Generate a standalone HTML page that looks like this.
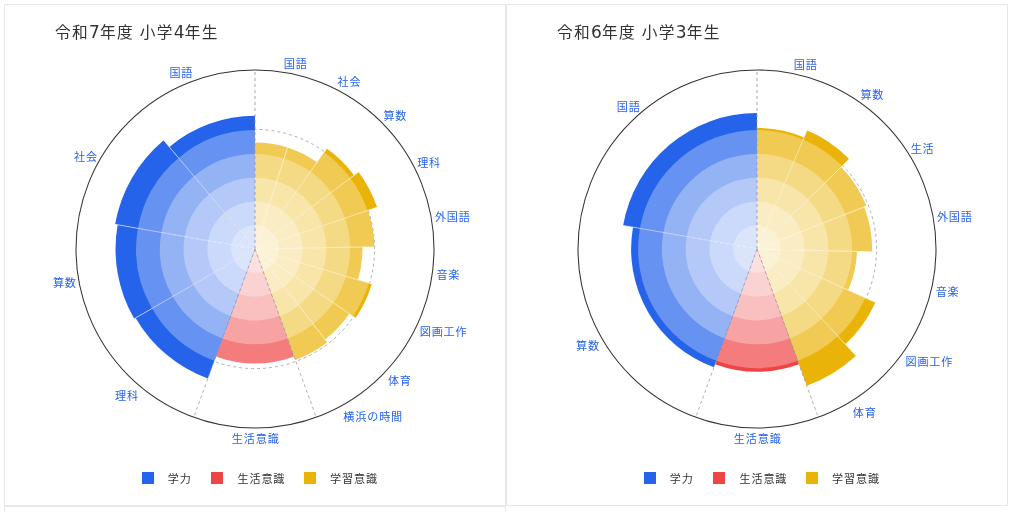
<!DOCTYPE html>
<html lang="ja">
<head>
<meta charset="utf-8">
<title>学力レーダー</title>
<style>
html,body{margin:0;padding:0;background:#fff;}
.root{position:relative;width:1012px;height:512px;overflow:hidden;background:#fff;}
body{width:1012px;height:512px;overflow:hidden;position:relative;font-family:"Liberation Sans","Noto Sans CJK JP",sans-serif;}
.card{position:absolute;width:500px;height:500px;border:1px solid #e5e7eb;background:#fff;overflow:hidden;}
.ttl{position:absolute;font-size:15.7px;letter-spacing:1.3px;line-height:24px;color:#333;white-space:nowrap;}
.dg{font-family:"DejaVu Sans","Liberation Sans",sans-serif;font-size:17px;letter-spacing:0.3px;}
.ch{position:absolute;left:0;top:0;}
.lb{font-weight:400;font-size:11.1px;letter-spacing:0.85px;fill:#2563eb;font-family:"Liberation Sans","Noto Sans CJK JP",sans-serif;}
.lg{position:absolute;left:0;top:0;width:500px;height:500px;}
.sq{position:absolute;top:467.3px;width:12px;height:12px;}
.lt{position:absolute;font-weight:400;font-size:11.1px;letter-spacing:0.85px;line-height:18px;color:#333;white-space:nowrap;}
</style>
</head>
<body>
<div class="root">
<div class="card" style="left:4px;top:4px">
<div class="ttl" style="left:49.91px;top:15px">令和<span class="dg">7</span>年度 小学<span class="dg">4</span>年生</div>
<svg class="ch" width="500" height="500" viewBox="0 0 500 500">
<path d="M250 124.4A119.6 119.6 0 1 1 250 363.6A119.6 119.6 0 1 1 250 124.4" fill="none" stroke="#9a9ca3" stroke-opacity="0.8" stroke-width="1" stroke-dasharray="3 3" stroke-dashoffset="1.5"/>
<path d="M250 244L250 137.5A106.5 106.5 0 0 1 282.52 142.59Z" fill="#f0ca52"/>
<path d="M250 244L250 148.88A95.12 95.12 0 0 1 279.04 153.42Z" fill="#f5da86"/>
<path d="M250 244L250 172.66A71.34 71.34 0 0 1 271.78 176.07Z" fill="#f8e5aa"/>
<path d="M250 244L250 196.44A47.56 47.56 0 0 1 264.52 198.71Z" fill="#faedc4"/>
<path d="M250 244L250 220.22A23.78 23.78 0 0 1 257.26 221.36Z" fill="#fbf2d5"/>
<path d="M250 244L282.51 142.61A106.48 106.48 0 0 1 311.92 157.37Z" fill="#f0ca52"/>
<path d="M250 244L279.04 153.42A95.12 95.12 0 0 1 305.31 166.61Z" fill="#f5da86"/>
<path d="M250 244L271.78 176.07A71.34 71.34 0 0 1 291.48 185.96Z" fill="#f8e5aa"/>
<path d="M250 244L264.52 198.71A47.56 47.56 0 0 1 277.66 205.31Z" fill="#faedc4"/>
<path d="M250 244L257.26 221.36A23.78 23.78 0 0 1 263.83 224.65Z" fill="#fbf2d5"/>
<path d="M250 244L321.78 143.57A123.44 123.44 0 0 1 349.02 170.29Z" fill="#eab308"/>
<path d="M250 244L319.14 147.27A118.9 118.9 0 0 1 345.37 173Z" fill="#f0ca52"/>
<path d="M250 244L305.31 166.61A95.12 95.12 0 0 1 326.3 187.2Z" fill="#f5da86"/>
<path d="M250 244L291.48 185.96A71.34 71.34 0 0 1 307.22 201.4Z" fill="#f8e5aa"/>
<path d="M250 244L277.66 205.31A47.56 47.56 0 0 1 288.15 215.6Z" fill="#faedc4"/>
<path d="M250 244L263.83 224.65A23.78 23.78 0 0 1 269.07 229.8Z" fill="#fbf2d5"/>
<path d="M250 244L353.55 166.91A129.09 129.09 0 0 1 372.14 202.21Z" fill="#eab308"/>
<path d="M250 244L345.37 173A118.9 118.9 0 0 1 362.5 205.51Z" fill="#f0ca52"/>
<path d="M250 244L326.3 187.2A95.12 95.12 0 0 1 340 213.21Z" fill="#f5da86"/>
<path d="M250 244L307.22 201.4A71.34 71.34 0 0 1 317.5 220.9Z" fill="#f8e5aa"/>
<path d="M250 244L288.15 215.6A47.56 47.56 0 0 1 295 228.6Z" fill="#faedc4"/>
<path d="M250 244L269.07 229.8A23.78 23.78 0 0 1 272.5 236.3Z" fill="#fbf2d5"/>
<path d="M250 244L362.72 205.43A119.13 119.13 0 0 1 369.11 241.69Z" fill="#eab308"/>
<path d="M250 244L362.5 205.51A118.9 118.9 0 0 1 368.88 241.69Z" fill="#f0ca52"/>
<path d="M250 244L340 213.21A95.12 95.12 0 0 1 345.1 242.16Z" fill="#f5da86"/>
<path d="M250 244L317.5 220.9A71.34 71.34 0 0 1 321.33 242.62Z" fill="#f8e5aa"/>
<path d="M250 244L295 228.6A47.56 47.56 0 0 1 297.55 243.08Z" fill="#faedc4"/>
<path d="M250 244L272.5 236.3A23.78 23.78 0 0 1 273.78 243.54Z" fill="#fbf2d5"/>
<path d="M250 244L357.45 241.92A107.47 107.47 0 0 1 352.96 274.82Z" fill="#f0ca52"/>
<path d="M250 244L345.1 242.16A95.12 95.12 0 0 1 341.12 271.28Z" fill="#f5da86"/>
<path d="M250 244L321.33 242.62A71.34 71.34 0 0 1 318.34 264.46Z" fill="#f8e5aa"/>
<path d="M250 244L297.55 243.08A47.56 47.56 0 0 1 295.56 257.64Z" fill="#faedc4"/>
<path d="M250 244L273.78 243.54A23.78 23.78 0 0 1 272.78 250.82Z" fill="#fbf2d5"/>
<path d="M250 244L366.79 278.97A121.91 121.91 0 0 1 350.54 312.96Z" fill="#eab308"/>
<path d="M250 244L363.9 278.1A118.9 118.9 0 0 1 348.05 311.25Z" fill="#f0ca52"/>
<path d="M250 244L341.12 271.28A95.12 95.12 0 0 1 328.44 297.8Z" fill="#f5da86"/>
<path d="M250 244L318.34 264.46A71.34 71.34 0 0 1 308.83 284.35Z" fill="#f8e5aa"/>
<path d="M250 244L295.56 257.64A47.56 47.56 0 0 1 289.22 270.9Z" fill="#faedc4"/>
<path d="M250 244L272.78 250.82A23.78 23.78 0 0 1 269.61 257.45Z" fill="#fbf2d5"/>
<path d="M250 244L344.31 308.68A114.36 114.36 0 0 1 320.06 334.39Z" fill="#f0ca52"/>
<path d="M250 244L328.44 297.8A95.12 95.12 0 0 1 308.27 319.18Z" fill="#f5da86"/>
<path d="M250 244L308.83 284.35A71.34 71.34 0 0 1 293.7 300.39Z" fill="#f8e5aa"/>
<path d="M250 244L289.22 270.9A47.56 47.56 0 0 1 279.14 281.59Z" fill="#faedc4"/>
<path d="M250 244L269.61 257.45A23.78 23.78 0 0 1 264.57 262.8Z" fill="#fbf2d5"/>
<path d="M250 244L322.36 337.37A118.12 118.12 0 0 1 290.4 355Z" fill="#f0ca52"/>
<path d="M250 244L308.27 319.18A95.12 95.12 0 0 1 282.53 333.38Z" fill="#f5da86"/>
<path d="M250 244L293.7 300.39A71.34 71.34 0 0 1 274.4 311.04Z" fill="#f8e5aa"/>
<path d="M250 244L279.14 281.59A47.56 47.56 0 0 1 266.27 288.69Z" fill="#faedc4"/>
<path d="M250 244L264.57 262.8A23.78 23.78 0 0 1 258.13 266.35Z" fill="#fbf2d5"/>
<path d="M250 244L289.13 351.5A114.4 114.4 0 0 1 210.87 351.5Z" fill="#f47c7c"/>
<path d="M250 244L282.53 333.38A95.12 95.12 0 0 1 217.47 333.38Z" fill="#f7a3a3"/>
<path d="M250 244L274.4 311.04A71.34 71.34 0 0 1 225.6 311.04Z" fill="#fabfbf"/>
<path d="M250 244L266.27 288.69A47.56 47.56 0 0 1 233.73 288.69Z" fill="#fbd2d2"/>
<path d="M250 244L258.13 266.35A23.78 23.78 0 0 1 241.87 266.35Z" fill="#fce0e0"/>
<path d="M250 244L202.85 373.53A137.85 137.85 0 0 1 130.62 312.92Z" fill="#2563eb"/>
<path d="M250 244L209.33 355.73A118.9 118.9 0 0 1 147.03 303.45Z" fill="#6692f1"/>
<path d="M250 244L217.47 333.38A95.12 95.12 0 0 1 167.62 291.56Z" fill="#94b3f5"/>
<path d="M250 244L225.6 311.04A71.34 71.34 0 0 1 188.22 279.67Z" fill="#b4c9f8"/>
<path d="M250 244L233.73 288.69A47.56 47.56 0 0 1 208.81 267.78Z" fill="#cbdafa"/>
<path d="M250 244L241.87 266.35A23.78 23.78 0 0 1 229.41 255.89Z" fill="#dae5fc"/>
<path d="M250 244L129.22 313.73A139.47 139.47 0 0 1 112.65 219.78Z" fill="#2563eb"/>
<path d="M250 244L147.03 303.45A118.9 118.9 0 0 1 132.91 223.35Z" fill="#6692f1"/>
<path d="M250 244L167.62 291.56A95.12 95.12 0 0 1 156.33 227.48Z" fill="#94b3f5"/>
<path d="M250 244L188.22 279.67A71.34 71.34 0 0 1 179.74 231.61Z" fill="#b4c9f8"/>
<path d="M250 244L208.81 267.78A47.56 47.56 0 0 1 203.16 235.74Z" fill="#cbdafa"/>
<path d="M250 244L229.41 255.89A23.78 23.78 0 0 1 226.58 239.87Z" fill="#dae5fc"/>
<path d="M250 244L110.06 219.32A142.1 142.1 0 0 1 158.66 135.15Z" fill="#2563eb"/>
<path d="M250 244L132.91 223.35A118.9 118.9 0 0 1 173.57 152.92Z" fill="#6692f1"/>
<path d="M250 244L156.33 227.48A95.12 95.12 0 0 1 188.86 171.13Z" fill="#94b3f5"/>
<path d="M250 244L179.74 231.61A71.34 71.34 0 0 1 204.14 189.35Z" fill="#b4c9f8"/>
<path d="M250 244L203.16 235.74A47.56 47.56 0 0 1 219.43 207.57Z" fill="#cbdafa"/>
<path d="M250 244L226.58 239.87A23.78 23.78 0 0 1 234.71 225.78Z" fill="#dae5fc"/>
<path d="M250 244L164.39 141.97A133.19 133.19 0 0 1 250 110.81Z" fill="#2563eb"/>
<path d="M250 244L173.57 152.92A118.9 118.9 0 0 1 250 125.1Z" fill="#6692f1"/>
<path d="M250 244L188.86 171.13A95.12 95.12 0 0 1 250 148.88Z" fill="#94b3f5"/>
<path d="M250 244L204.14 189.35A71.34 71.34 0 0 1 250 172.66Z" fill="#b4c9f8"/>
<path d="M250 244L219.43 207.57A47.56 47.56 0 0 1 250 196.44Z" fill="#cbdafa"/>
<path d="M250 244L234.71 225.78A23.78 23.78 0 0 1 250 220.22Z" fill="#dae5fc"/>
<line x1="250" y1="244" x2="282.51" y2="142.61" stroke="#fff" stroke-opacity="0.55" stroke-width="1"/>
<line x1="250" y1="244" x2="321.78" y2="143.57" stroke="#fff" stroke-opacity="0.55" stroke-width="1"/>
<line x1="250" y1="244" x2="353.55" y2="166.91" stroke="#fff" stroke-opacity="0.55" stroke-width="1"/>
<line x1="250" y1="244" x2="372.05" y2="202.24" stroke="#fff" stroke-opacity="0.55" stroke-width="1"/>
<line x1="250" y1="244" x2="369.08" y2="241.69" stroke="#fff" stroke-opacity="0.55" stroke-width="1"/>
<line x1="250" y1="244" x2="366.79" y2="278.97" stroke="#fff" stroke-opacity="0.55" stroke-width="1"/>
<line x1="250" y1="244" x2="350.61" y2="313" stroke="#fff" stroke-opacity="0.55" stroke-width="1"/>
<line x1="250" y1="244" x2="322.36" y2="337.37" stroke="#fff" stroke-opacity="0.55" stroke-width="1"/>
<line x1="250" y1="244" x2="129.22" y2="313.73" stroke="#fff" stroke-opacity="0.55" stroke-width="1"/>
<line x1="250" y1="244" x2="110.06" y2="219.32" stroke="#fff" stroke-opacity="0.55" stroke-width="1"/>
<line x1="250" y1="244" x2="158.72" y2="135.22" stroke="#fff" stroke-opacity="0.55" stroke-width="1"/>
<line x1="250" y1="244" x2="250" y2="65" stroke="#9a9ca3" stroke-opacity="0.9" stroke-width="1" stroke-dasharray="3 3"/>
<line x1="250" y1="244" x2="311.22" y2="412.2" stroke="#9a9ca3" stroke-opacity="0.8" stroke-width="1" stroke-dasharray="3 3"/>
<line x1="250" y1="244" x2="188.78" y2="412.2" stroke="#9a9ca3" stroke-opacity="0.8" stroke-width="1" stroke-dasharray="3 3"/>
<circle cx="250" cy="244" r="179" fill="none" stroke="#333" stroke-width="1.05"/>
<text class="lb" x="164.39" y="71.53">国語</text>
<text class="lb" x="69.12" y="155.97">社会</text>
<text class="lb" x="47.88" y="282.04">算数</text>
<text class="lb" x="110.09" y="395.01">理科</text>
<text class="lb" x="226.81" y="437.78">生活意識</text>
<text class="lb" x="278.69" y="62.52">国語</text>
<text class="lb" x="332.53" y="81.33">社会</text>
<text class="lb" x="378.4" y="114.7">算数</text>
<text class="lb" x="412.15" y="161.85">理科</text>
<text class="lb" x="429.89" y="215.55">外国語</text>
<text class="lb" x="431.43" y="273.65">音楽</text>
<text class="lb" x="414.72" y="330.95">図画工作</text>
<text class="lb" x="382.89" y="379.61">体育</text>
<text class="lb" x="338.33" y="415.75">横浜の時間</text>
</svg>
<div class="lg"><span class="sq" style="left:136.5px;background:#2563eb"></span><span class="sq" style="left:205.6px;background:#ef4444"></span><span class="sq" style="left:298.5px;background:#eab308"></span><span class="lt" style="left:162.83px;top:464.61px">学力</span><span class="lt" style="left:232.53px;top:465.48px">生活意識</span><span class="lt" style="left:325.12px;top:464.55px">学習意識</span></div>
</div>
<div class="card" style="left:506px;top:4px">
<div class="ttl" style="left:49.91px;top:15px">令和<span class="dg">6</span>年度 小学<span class="dg">3</span>年生</div>
<svg class="ch" width="500" height="500" viewBox="0 0 500 500">
<path d="M250 124.4A119.6 119.6 0 1 1 250 363.6A119.6 119.6 0 1 1 250 124.4" fill="none" stroke="#9a9ca3" stroke-opacity="0.8" stroke-width="1" stroke-dasharray="3 3" stroke-dashoffset="1.5"/>
<path d="M250 244L250 122.9A121.1 121.1 0 0 1 297.04 132.41Z" fill="#eab308"/>
<path d="M250 244L250 125.1A118.9 118.9 0 0 1 296.18 134.44Z" fill="#f0ca52"/>
<path d="M250 244L250 148.88A95.12 95.12 0 0 1 286.95 156.35Z" fill="#f5da86"/>
<path d="M250 244L250 172.66A71.34 71.34 0 0 1 277.71 178.26Z" fill="#f8e5aa"/>
<path d="M250 244L250 196.44A47.56 47.56 0 0 1 268.47 200.17Z" fill="#faedc4"/>
<path d="M250 244L250 220.22A23.78 23.78 0 0 1 259.24 222.09Z" fill="#fbf2d5"/>
<path d="M250 244L300.02 125.35A128.77 128.77 0 0 1 342.18 154.09Z" fill="#eab308"/>
<path d="M250 244L296.18 134.44A118.9 118.9 0 0 1 335.12 160.98Z" fill="#f0ca52"/>
<path d="M250 244L286.95 156.35A95.12 95.12 0 0 1 318.09 177.58Z" fill="#f5da86"/>
<path d="M250 244L277.71 178.26A71.34 71.34 0 0 1 301.07 194.19Z" fill="#f8e5aa"/>
<path d="M250 244L268.47 200.17A47.56 47.56 0 0 1 284.05 210.79Z" fill="#faedc4"/>
<path d="M250 244L259.24 222.09A23.78 23.78 0 0 1 267.02 227.4Z" fill="#fbf2d5"/>
<path d="M250 244L334.19 161.88A117.61 117.61 0 0 1 359.48 201.03Z" fill="#f0ca52"/>
<path d="M250 244L318.09 177.58A95.12 95.12 0 0 1 338.54 209.25Z" fill="#f5da86"/>
<path d="M250 244L301.07 194.19A71.34 71.34 0 0 1 316.41 217.94Z" fill="#f8e5aa"/>
<path d="M250 244L284.05 210.79A47.56 47.56 0 0 1 294.27 226.62Z" fill="#faedc4"/>
<path d="M250 244L267.02 227.4A23.78 23.78 0 0 1 272.14 235.31Z" fill="#fbf2d5"/>
<path d="M250 244L357.18 201.94A115.13 115.13 0 0 1 365.1 246.87Z" fill="#f0ca52"/>
<path d="M250 244L338.54 209.25A95.12 95.12 0 0 1 345.09 246.37Z" fill="#f5da86"/>
<path d="M250 244L316.41 217.94A71.34 71.34 0 0 1 321.32 245.78Z" fill="#f8e5aa"/>
<path d="M250 244L294.27 226.62A47.56 47.56 0 0 1 297.55 245.19Z" fill="#faedc4"/>
<path d="M250 244L272.14 235.31A23.78 23.78 0 0 1 273.77 244.59Z" fill="#fbf2d5"/>
<path d="M250 244L349.92 246.49A99.96 99.96 0 0 1 341.11 285.11Z" fill="#f0ca52"/>
<path d="M250 244L345.09 246.37A95.12 95.12 0 0 1 336.7 283.12Z" fill="#f5da86"/>
<path d="M250 244L321.32 245.78A71.34 71.34 0 0 1 315.03 273.34Z" fill="#f8e5aa"/>
<path d="M250 244L297.55 245.19A47.56 47.56 0 0 1 293.35 263.56Z" fill="#faedc4"/>
<path d="M250 244L273.77 244.59A23.78 23.78 0 0 1 271.68 253.78Z" fill="#fbf2d5"/>
<path d="M250 244L368.39 297.42A129.88 129.88 0 0 1 338.34 339.21Z" fill="#eab308"/>
<path d="M250 244L358.38 292.9A118.9 118.9 0 0 1 330.87 331.16Z" fill="#f0ca52"/>
<path d="M250 244L336.7 283.12A95.12 95.12 0 0 1 314.7 313.73Z" fill="#f5da86"/>
<path d="M250 244L315.03 273.34A71.34 71.34 0 0 1 298.52 296.3Z" fill="#f8e5aa"/>
<path d="M250 244L293.35 263.56A47.56 47.56 0 0 1 282.35 278.86Z" fill="#faedc4"/>
<path d="M250 244L271.68 253.78A23.78 23.78 0 0 1 266.17 261.43Z" fill="#fbf2d5"/>
<path d="M250 244L348.99 350.68A145.53 145.53 0 0 1 299.77 380.75Z" fill="#eab308"/>
<path d="M250 244L330.87 331.16A118.9 118.9 0 0 1 290.67 355.73Z" fill="#f0ca52"/>
<path d="M250 244L314.7 313.73A95.12 95.12 0 0 1 282.53 333.38Z" fill="#f5da86"/>
<path d="M250 244L298.52 296.3A71.34 71.34 0 0 1 274.4 311.04Z" fill="#f8e5aa"/>
<path d="M250 244L282.35 278.86A47.56 47.56 0 0 1 266.27 288.69Z" fill="#faedc4"/>
<path d="M250 244L266.17 261.43A23.78 23.78 0 0 1 258.13 266.35Z" fill="#fbf2d5"/>
<path d="M250 244L291.93 359.21A122.6 122.6 0 0 1 208.07 359.21Z" fill="#ef4444"/>
<path d="M250 244L290.67 355.73A118.9 118.9 0 0 1 209.33 355.73Z" fill="#f47c7c"/>
<path d="M250 244L282.53 333.38A95.12 95.12 0 0 1 217.47 333.38Z" fill="#f7a3a3"/>
<path d="M250 244L274.4 311.04A71.34 71.34 0 0 1 225.6 311.04Z" fill="#fabfbf"/>
<path d="M250 244L266.27 288.69A47.56 47.56 0 0 1 233.73 288.69Z" fill="#fbd2d2"/>
<path d="M250 244L258.13 266.35A23.78 23.78 0 0 1 241.87 266.35Z" fill="#fce0e0"/>
<path d="M250 244L206.94 362.31A125.9 125.9 0 0 1 126.01 222.14Z" fill="#2563eb"/>
<path d="M250 244L209.33 355.73A118.9 118.9 0 0 1 132.91 223.35Z" fill="#6692f1"/>
<path d="M250 244L217.47 333.38A95.12 95.12 0 0 1 156.33 227.48Z" fill="#94b3f5"/>
<path d="M250 244L225.6 311.04A71.34 71.34 0 0 1 179.74 231.61Z" fill="#b4c9f8"/>
<path d="M250 244L233.73 288.69A47.56 47.56 0 0 1 203.16 235.74Z" fill="#cbdafa"/>
<path d="M250 244L241.87 266.35A23.78 23.78 0 0 1 226.58 239.87Z" fill="#dae5fc"/>
<path d="M250 244L116.11 220.39A135.95 135.95 0 0 1 250 108.05Z" fill="#2563eb"/>
<path d="M250 244L132.91 223.35A118.9 118.9 0 0 1 250 125.1Z" fill="#6692f1"/>
<path d="M250 244L156.33 227.48A95.12 95.12 0 0 1 250 148.88Z" fill="#94b3f5"/>
<path d="M250 244L179.74 231.61A71.34 71.34 0 0 1 250 172.66Z" fill="#b4c9f8"/>
<path d="M250 244L203.16 235.74A47.56 47.56 0 0 1 250 196.44Z" fill="#cbdafa"/>
<path d="M250 244L226.58 239.87A23.78 23.78 0 0 1 250 220.22Z" fill="#dae5fc"/>
<line x1="250" y1="244" x2="300.02" y2="125.35" stroke="#fff" stroke-opacity="0.55" stroke-width="1"/>
<line x1="250" y1="244" x2="342.06" y2="154.21" stroke="#fff" stroke-opacity="0.55" stroke-width="1"/>
<line x1="250" y1="244" x2="359.38" y2="201.07" stroke="#fff" stroke-opacity="0.55" stroke-width="1"/>
<line x1="250" y1="244" x2="365.06" y2="246.87" stroke="#fff" stroke-opacity="0.55" stroke-width="1"/>
<line x1="250" y1="244" x2="368.39" y2="297.42" stroke="#fff" stroke-opacity="0.55" stroke-width="1"/>
<line x1="250" y1="244" x2="348.99" y2="350.68" stroke="#fff" stroke-opacity="0.55" stroke-width="1"/>
<line x1="250" y1="244" x2="116.11" y2="220.39" stroke="#fff" stroke-opacity="0.55" stroke-width="1"/>
<line x1="250" y1="244" x2="250" y2="65" stroke="#9a9ca3" stroke-opacity="0.9" stroke-width="1" stroke-dasharray="3 3"/>
<line x1="250" y1="244" x2="311.22" y2="412.2" stroke="#9a9ca3" stroke-opacity="0.8" stroke-width="1" stroke-dasharray="3 3"/>
<line x1="250" y1="244" x2="188.78" y2="412.2" stroke="#9a9ca3" stroke-opacity="0.8" stroke-width="1" stroke-dasharray="3 3"/>
<circle cx="250" cy="244" r="179" fill="none" stroke="#333" stroke-width="1.05"/>
<text class="lb" x="109.77" y="105.52">国語</text>
<text class="lb" x="68.94" y="344.58">算数</text>
<text class="lb" x="226.81" y="437.78">生活意識</text>
<text class="lb" x="286.78" y="64.12">国語</text>
<text class="lb" x="353.4" y="93.67">算数</text>
<text class="lb" x="403.68" y="147.6">生活</text>
<text class="lb" x="429.89" y="215.99">外国語</text>
<text class="lb" x="428.63" y="290.75">音楽</text>
<text class="lb" x="398.48" y="361.27">図画工作</text>
<text class="lb" x="345.76" y="412.17">体育</text>
</svg>
<div class="lg"><span class="sq" style="left:136.5px;background:#2563eb"></span><span class="sq" style="left:205.6px;background:#ef4444"></span><span class="sq" style="left:298.5px;background:#eab308"></span><span class="lt" style="left:162.83px;top:464.61px">学力</span><span class="lt" style="left:232.53px;top:465.48px">生活意識</span><span class="lt" style="left:325.12px;top:464.55px">学習意識</span></div>
</div>
<div class="card" style="left:4px;top:506px"></div>
</div>
</body>
</html>
